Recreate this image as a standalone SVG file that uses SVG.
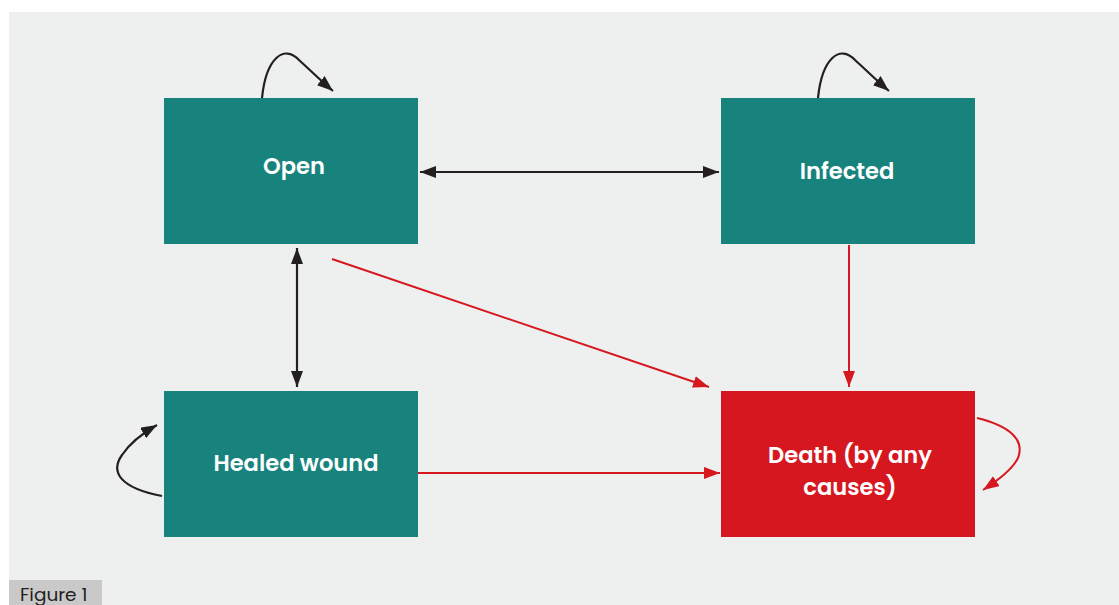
<svg xmlns="http://www.w3.org/2000/svg" width="1119" height="605" viewBox="0 0 1119 605">
<style>
.node-teal{fill:#17837c}
.node-red{fill:#d7171f}
.lbl{font-family:Poppins,"Lato","Liberation Sans",sans-serif;font-weight:600;font-size:22.6px;fill:#ffffff;text-anchor:middle}
.blk{stroke:#231f20;stroke-width:2.2;fill:none}
.red{stroke:#d7171f;stroke-width:2;fill:none}
</style>
<defs>
<marker id="abk" viewBox="0 0 16 12" refX="16" refY="6" markerWidth="16" markerHeight="12" markerUnits="userSpaceOnUse" orient="auto-start-reverse"><path d="M0,0 L16,6 L0,12 Z" fill="#231f20"/></marker>
<marker id="ar" viewBox="0 0 16 12" refX="16" refY="6" markerWidth="16" markerHeight="12" markerUnits="userSpaceOnUse" orient="auto-start-reverse"><path d="M0,0 L16,6 L0,12 Z" fill="#d7171f"/></marker>
</defs>
<rect x="0" y="0" width="1119" height="605" fill="#ffffff"/>
<rect x="9" y="12" width="1110" height="593" fill="#eef0ef"/>
<rect x="9" y="580" width="93" height="25" fill="#c9c9c9"/>
<text x="20" y="601" font-family="Poppins,'Lato','Liberation Sans',sans-serif" font-size="18.5" fill="#231f20">Figure 1</text>
<g id="connectors">
<line class="blk" x1="420" y1="172" x2="719" y2="172" marker-start="url(#abk)" marker-end="url(#abk)"/>
<line class="blk" x1="297" y1="248" x2="297" y2="387" marker-start="url(#abk)" marker-end="url(#abk)"/>
<line class="red" x1="332" y1="259" x2="709" y2="387" marker-end="url(#ar)"/>
<line class="red" x1="849" y1="245" x2="849" y2="387" marker-end="url(#ar)"/>
<line class="red" x1="418" y1="473" x2="720" y2="473" marker-end="url(#ar)"/>
<path class="blk" d="M262,98 C266,58 284,44 299,60 C310,70 320,80 333,91" marker-end="url(#abk)"/>
<path class="blk" d="M818,98 C822,58 840,44 855,60 C866,70 876,80 889,91" marker-end="url(#abk)"/>
<path class="blk" d="M162,496 C120,488 110,472 122,455 C130,443 143,433 157,425" marker-end="url(#abk)"/>
<path class="red" d="M977,418 C1010,426 1025,440 1018,458 C1012,470 998,480 983,490" marker-end="url(#ar)"/>
</g>
<g id="open"><rect class="node-teal" x="164" y="98" width="254" height="146"/><text class="lbl" x="294" y="174">Open</text></g>
<g id="infected"><rect class="node-teal" x="721" y="98" width="254" height="146"/><text class="lbl" x="847" y="179">Infected</text></g>
<g id="healed"><rect class="node-teal" x="164" y="391" width="254" height="146"/><text class="lbl" x="296" y="471">Healed wound</text></g>
<g id="death"><rect class="node-red" x="721" y="391" width="254" height="146"/><text class="lbl" x="850" y="463">Death (by any</text><text class="lbl" x="850" y="495">causes)</text></g>
</svg>
